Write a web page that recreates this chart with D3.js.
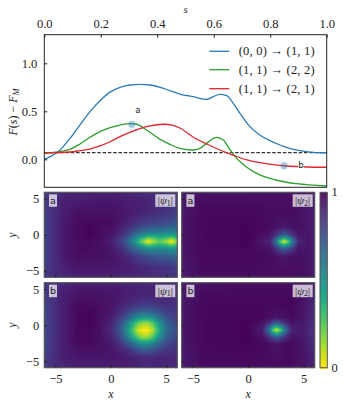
<!DOCTYPE html>
<html>
<head>
<meta charset="utf-8">
<script src="https://cdn.jsdelivr.net/npm/d3@7"></script>
<style>
  html, body { margin: 0; padding: 0; background: #fff; }
  svg { display: block; }
  text { font-family: "Liberation Serif", serif; fill: #222; }
  .sans { font-family: "DejaVu Sans", sans-serif; }
  .it { font-style: italic; }
</style>
</head>
<body>
<div id="chart"></div>
<script>
// Reaction path curves
const sBlue = [0, .02, .056, .091, .126, .162, .197, .233, .268, .303, .339, .374, .41, .445, .48, .528, .575, .598, .622, .646, .669, .693, .728, .763, .799, .834, .869, .905, .953, 1];
const fBlue = [0, .025, .097, .218, .357, .496, .61, .70, .75, .774, .78, .774, .75, .715, .68, .652, .625, .652, .677, .663, .583, .479, .34, .253, .194, .149, .114, .09, .073, .068];
const sGreen = [0, .056, .091, .126, .162, .197, .233, .268, .303, .327, .362, .41, .445, .48, .528, .551, .575, .598, .61, .634, .658, .681, .717, .752, .787, .834, .894, 1];
const fGreen = [.065, .08, .104, .159, .229, .288, .33, .357, .371, .365, .305, .208, .156, .114, .097, .114, .166, .218, .229, .201, .097, .01, -.083, -.146, -.188, -.226, -.254, -.278];
const sRed = [0, .091, .126, .162, .197, .233, .268, .303, .339, .374, .421, .456, .48, .528, .575, .622, .669, .717, .763, .81, .858, .929, 1];
const fRed = [.065, .076, .09, .107, .139, .183, .236, .281, .319, .347, .365, .354, .326, .229, .159, .097, .042, -.007, -.035, -.056, -.07, -.08, -.083];
const baseline = .069;
const legendLabels = ["(0, 0) → (1, 1)", "(1, 1) → (2, 2)", "(1, 1) → (2, 1)"];
const lineColors = ["#2b7bba", "#2ca02c", "#e0262b"];
const markS = [.31, .849];
const markF = [.365, -.066];
const markNames = ["a", "b"];
const topTicks = [0, .2, .4, .6, .8, 1];
const leftTicks = [0, .5, 1];
const heatTicks = [-5, 0, 5];

// Heat maps: values on the colour bar in percent (100 = top of bar, 0 = bottom), rows from y = +6 down
const a1X = [-6, -5, -4, -3, -2, -1, 0, 1, 1.5, 2, 2.5, 3, 3.4, 3.8, 4.4, 5, 5.45, 6];
const a1Y = [6, 4.5, 3, 1.5, .5, 0, -.5, -.93, -1.4, -2, -3, -4.5, -6];
const a1Z = [
  [82, 87, 89, 90, 90, 90, 90, 90, 89, 89, 89, 88, 88, 87, 87, 86, 85, 83],
  [82, 88, 92, 93, 93, 94, 94, 93, 92, 92, 91, 91, 90, 89, 88, 87, 86, 84],
  [81, 88, 93, 96, 96, 96, 96, 94, 93, 92, 91, 90, 89, 88, 86, 85, 83, 81],
  [80, 88, 94, 97, 98, 97, 97, 93, 90, 87, 84, 81, 80, 79, 78, 76, 74, 72],
  [80, 88, 94, 97, 99, 97, 95, 89, 84, 78, 71, 66, 63, 62, 61, 59, 58, 58],
  [80, 88, 94, 97, 99, 97, 94, 86, 78, 68, 58, 50, 46, 46, 48, 46, 44, 48],
  [80, 88, 94, 97, 98, 97, 93, 82, 72, 60, 46, 30, 20, 26, 34, 28, 20, 32],
  [80, 88, 94, 97, 97, 96, 92, 80, 68, 52, 32, 14, 0, 12, 24, 14, 0, 16],
  [80, 88, 94, 97, 97, 96, 93, 83, 73, 62, 48, 34, 26, 30, 36, 32, 24, 34],
  [80, 88, 94, 97, 97, 96, 94, 87, 80, 72, 64, 57, 54, 54, 54, 52, 50, 52],
  [80, 88, 94, 96, 96, 96, 95, 92, 89, 85, 82, 78, 75, 74, 72, 71, 69, 68],
  [81, 88, 92, 94, 94, 94, 94, 93, 92, 91, 90, 89, 88, 87, 86, 85, 84, 82],
  [82, 87, 89, 90, 90, 90, 90, 90, 90, 89, 89, 89, 88, 88, 87, 86, 85, 84]
];
const b1X = [-6, -4.5, -3, -2, -1, 0, .5, 1, 1.5, 2, 2.5, 2.9, 3.3, 3.8, 4.3, 5, 6];
const b1Y = [6, 4.5, 3, 2, 1, .3, -.7, -1.7, -2.5, -3.5, -4.5, -6];
const b1Z = [
  [83, 88, 90, 91, 91, 91, 91, 90, 90, 90, 89, 89, 89, 89, 89, 88, 87],
  [82, 91, 95, 95, 95, 94, 94, 93, 92, 92, 91, 91, 91, 91, 91, 90, 88],
  [80, 91, 97, 97, 96, 95, 93, 91, 89, 87, 85, 84, 84, 85, 86, 87, 86],
  [79, 91, 98, 98, 97, 94, 91, 87, 82, 77, 73, 71, 71, 73, 77, 82, 84],
  [78, 91, 98, 99, 96, 92, 87, 80, 70, 58, 48, 44, 44, 50, 60, 74, 82],
  [78, 91, 98, 99, 96, 90, 83, 72, 56, 38, 22, 16, 16, 26, 44, 68, 80],
  [78, 91, 98, 98, 96, 89, 81, 68, 48, 26, 6, 0, 0, 12, 36, 64, 78],
  [78, 91, 98, 98, 96, 91, 84, 74, 58, 40, 24, 16, 16, 28, 48, 70, 80],
  [79, 91, 97, 98, 96, 93, 89, 83, 74, 64, 54, 48, 48, 54, 66, 78, 84],
  [80, 91, 96, 96, 96, 94, 92, 90, 87, 82, 76, 73, 73, 76, 81, 85, 86],
  [82, 91, 94, 94, 94, 94, 94, 93, 92, 91, 90, 89, 88, 89, 90, 90, 88],
  [83, 88, 90, 91, 91, 91, 91, 91, 90, 90, 90, 89, 89, 89, 89, 89, 88]
];
const a2X = [-6, -5.5, -4, 0, 2, 2.5, 2.85, 3.25, 3.65, 4, 4.5, 5.5, 6];
const a2Y = [6, 5.5, 3, 1, 0, -.5, -.93, -1.35, -1.9, -3, -5.5, -6];
const a2Z = [
  [90, 92, 93, 93, 93, 93, 93, 93, 93, 93, 93, 92, 91],
  [92, 94, 96, 96, 96, 96, 96, 96, 96, 96, 96, 94, 92],
  [93, 95, 98, 98, 97, 97, 97, 97, 97, 97, 96, 94, 92],
  [93, 95, 98, 99, 97, 95, 94, 93, 94, 95, 96, 94, 92],
  [93, 95, 98, 99, 95, 86, 78, 70, 78, 86, 94, 94, 91],
  [93, 95, 98, 99, 92, 72, 50, 38, 50, 70, 91, 94, 91],
  [93, 95, 98, 99, 90, 62, 28, 2, 28, 60, 89, 94, 91],
  [93, 95, 98, 99, 92, 70, 48, 34, 48, 68, 91, 94, 91],
  [93, 95, 98, 98, 95, 86, 76, 70, 76, 84, 94, 94, 92],
  [93, 95, 98, 98, 97, 96, 95, 94, 95, 96, 96, 95, 92],
  [92, 94, 97, 97, 97, 97, 97, 97, 97, 97, 97, 95, 92],
  [90, 92, 93, 93, 93, 93, 93, 93, 93, 93, 93, 92, 91]
];
const b2X = [-6, -5.5, -4, 0, 1.3, 1.85, 2.2, 2.57, 2.95, 3.3, 3.9, 5, 5.5, 6];
const b2Y = [6, 5.5, 3, 1, .35, -.2, -.65, -1.1, -1.65, -2.6, -5.5, -6];
const b2Z = [
  [90, 92, 93, 93, 93, 93, 93, 93, 93, 93, 93, 93, 92, 90],
  [92, 94, 96, 97, 97, 97, 97, 97, 97, 97, 97, 96, 94, 91],
  [93, 95, 98, 98, 98, 98, 98, 98, 98, 98, 98, 95, 92, 88],
  [93, 95, 98, 99, 98, 96, 95, 94, 95, 96, 97, 94, 90, 86],
  [93, 95, 98, 99, 96, 88, 80, 72, 80, 88, 95, 93, 89, 85],
  [93, 95, 98, 99, 93, 74, 52, 40, 52, 72, 92, 93, 88, 85],
  [93, 95, 98, 99, 91, 62, 26, 4, 26, 60, 90, 93, 88, 85],
  [93, 95, 98, 99, 93, 72, 50, 36, 50, 70, 92, 93, 88, 85],
  [93, 95, 98, 99, 96, 87, 78, 72, 78, 86, 95, 93, 89, 86],
  [93, 95, 98, 99, 98, 97, 96, 95, 96, 97, 97, 94, 90, 87],
  [92, 94, 97, 97, 97, 97, 97, 97, 97, 97, 97, 95, 93, 90],
  [90, 92, 93, 93, 93, 93, 93, 93, 93, 93, 93, 93, 92, 90]
];

const W = 343, H = 405;
const svg = d3.select("#chart").append("svg").attr("width", W).attr("height", H);
const ink = "#222";

// --- top panel ---
const xS = d3.scaleLinear().domain([0, 1]).range([44.3, 326.7]);
const yF = d3.scaleLinear().domain([0, 1]).range([159.3, 63.3]);
const topY = 34.7, botY = 187.3;

const line = d3.line().x(d => xS(d[0])).y(d => yF(d[1])).curve(d3.curveMonotoneX);
const curves = [d3.zip(sBlue, fBlue), d3.zip(sGreen, fGreen), d3.zip(sRed, fRed)];

svg.append("line")
  .attr("x1", xS(0)).attr("x2", xS(1))
  .attr("y1", yF(baseline)).attr("y2", yF(baseline))
  .attr("stroke", "#333").attr("stroke-width", 1.3).attr("stroke-dasharray", "3.5,1.8");

svg.append("g").selectAll("path").data(curves).join("path")
  .attr("d", line)
  .attr("fill", "none")
  .attr("stroke", (d, i) => lineColors[i])
  .attr("stroke-width", 1.3);

svg.append("g").selectAll("circle").data(markS).join("circle")
  .attr("cx", d => xS(d))
  .attr("cy", (d, i) => yF(markF[i]))
  .attr("r", 3.6)
  .attr("fill", "#2b7bba")
  .attr("fill-opacity", .42);

svg.append("text").attr("class", "sans").attr("x", xS(markS[0]) + 6).attr("y", yF(markF[0]) - 11)
  .attr("text-anchor", "middle").attr("font-size", 8.5).text(markNames[0]);
svg.append("text").attr("class", "sans").attr("x", xS(markS[1]) + 17).attr("y", yF(markF[1]) + 2.5)
  .attr("text-anchor", "middle").attr("font-size", 8.5)
  .attr("stroke", "#fff").attr("stroke-width", 1.5).attr("paint-order", "stroke")
  .text(markNames[1]);

svg.append("rect")
  .attr("x", xS(0)).attr("y", topY).attr("width", xS(1) - xS(0)).attr("height", botY - topY)
  .attr("fill", "none").attr("stroke", ink).attr("stroke-width", 1);

const axTop = svg.append("g").attr("transform", `translate(0,${topY})`)
  .call(d3.axisTop(xS).tickValues(topTicks).tickFormat(d3.format(".1f")).tickSize(-3).tickPadding(7));
const axLeft = svg.append("g").attr("transform", `translate(${xS(0)},0)`)
  .call(d3.axisLeft(yF).tickValues(leftTicks).tickFormat(d3.format(".1f")).tickSize(-3).tickPadding(7));
[axTop, axLeft].forEach(g => {
  g.select(".domain").remove();
  g.selectAll("line").attr("stroke", ink);
  g.selectAll("text").attr("font-size", 12.5).attr("font-family", "Liberation Serif").attr("fill", ink);
});

svg.append("text").attr("class", "it").attr("x", 185.5).attr("y", 13).attr("text-anchor", "middle")
  .attr("font-size", 10.5).text("s");

const fLabel = svg.append("text").attr("class", "it").attr("font-size", 12).attr("text-anchor", "middle")
  .attr("transform", "translate(16.5,112) rotate(-90)");
fLabel.append("tspan").text("F");
fLabel.append("tspan").attr("font-style", "normal").text("(");
fLabel.append("tspan").text("s");
fLabel.append("tspan").attr("font-style", "normal").text(") − ");
fLabel.append("tspan").text("F");
fLabel.append("tspan").attr("font-size", 8.5).attr("dy", 2).text("M");

// legend
const legendY = [51.3, 69.7, 88.7];
legendLabels.forEach((lab, i) => {
  svg.append("line").attr("x1", 209.3).attr("x2", 229.3).attr("y1", legendY[i]).attr("y2", legendY[i])
    .attr("stroke", lineColors[i]).attr("stroke-width", 1.3);
  svg.append("text").attr("x", 238.7).attr("y", legendY[i] + 4).attr("font-size", 12.5)
    .attr("textLength", 76).attr("lengthAdjust", "spacing").text(lab);
});

// --- heat maps ---
const colorOf = d3.scaleSequential(t => d3.interpolateViridis(t)).domain([100, 0]);

// bilinear lookup on the read grid, used only to paint the raster
function lookup(xs, ys, zs, x, y) {
  const i = Math.min(Math.max(d3.bisectRight(xs, x) - 1, 0), xs.length - 2);
  const revY = ys.map(v => -v);
  const j = Math.min(Math.max(d3.bisectRight(revY, -y) - 1, 0), ys.length - 2);
  const u = Math.min(Math.max((x - xs[i]) / (xs[i + 1] - xs[i]), 0), 1);
  const v = Math.min(Math.max((ys[j] - y) / (ys[j] - ys[j + 1]), 0), 1);
  return d3.interpolate(
    d3.interpolate(zs[j][i], zs[j][i + 1])(u),
    d3.interpolate(zs[j + 1][i], zs[j + 1][i + 1])(u)
  )(v);
}

function heatPanel(left, top, xs, ys, zs, tag, psi, showX, showY) {
  const w = 133, h = 85;
  const x = d3.scaleLinear().domain([-6, 6]).range([left, left + w]);
  const y = d3.scaleLinear().domain([5.9, -5.9]).range([top, top + h]);

  const cv = document.createElement("canvas");
  cv.width = w; cv.height = h;
  const ctx = cv.getContext("2d");
  for (let py = 0; py < h; py++) {
    for (let px = 0; px < w; px++) {
      ctx.fillStyle = colorOf(lookup(xs, ys, zs, x.invert(left + px + .5), y.invert(top + py + .5)));
      ctx.fillRect(px, py, 1, 1);
    }
  }
  svg.append("image").attr("x", left).attr("y", top).attr("width", w).attr("height", h)
    .attr("href", cv.toDataURL());

  svg.append("rect").attr("x", left).attr("y", top).attr("width", w).attr("height", h)
    .attr("fill", "none").attr("stroke", "#555").attr("stroke-width", 1.2);

  const gx = svg.append("g").attr("transform", `translate(0,${top + h})`)
    .call(d3.axisBottom(x).tickValues(heatTicks).tickFormat(d => d < 0 ? "−" + (-d) : d).tickSize(-2.5).tickPadding(6));
  const gy = svg.append("g").attr("transform", `translate(${left},0)`)
    .call(d3.axisLeft(y).tickValues(heatTicks).tickFormat(d => d < 0 ? "−" + (-d) : d).tickSize(-2.5).tickPadding(5));
  [gx, gy].forEach(g => {
    g.select(".domain").remove();
    g.selectAll("line").attr("stroke", ink);
    g.selectAll("text").attr("font-size", 12.5).attr("font-family", "Liberation Serif").attr("fill", ink);
  });
  if (!showX) gx.selectAll("text").remove();
  if (!showY) gy.selectAll("text").remove();

  // tag box and psi box
  svg.append("rect").attr("x", left + 4.7).attr("y", top + 2).attr("width", 8).attr("height", 12.5)
    .attr("fill", "#fff").attr("fill-opacity", .72);
  svg.append("text").attr("class", "sans").attr("x", left + 8.7).attr("y", top + 11.5)
    .attr("text-anchor", "middle").attr("font-size", 9.5).text(tag);

  svg.append("rect").attr("x", left + 111).attr("y", top + 2).attr("width", 20).attr("height", 12.5)
    .attr("fill", "#fff").attr("fill-opacity", .72);
  const t = svg.append("text").attr("x", left + 121).attr("y", top + 12).attr("text-anchor", "middle")
    .attr("font-size", 11);
  t.append("tspan").text("|");
  t.append("tspan").attr("class", "it").text("ψ");
  t.append("tspan").attr("font-size", 8).attr("dy", 1.5).text(psi);
  t.append("tspan").attr("dy", -1.5).text("|");
}

heatPanel(44.3, 192.3, a1X, a1Y, a1Z, "a", "1", false, true);
heatPanel(181.7, 192.3, a2X, a2Y, a2Z, "a", "2", false, false);
heatPanel(44.3, 282.7, b1X, b1Y, b1Z, "b", "1", true, true);
heatPanel(181.7, 282.7, b2X, b2Y, b2Z, "b", "2", true, false);

svg.append("text").attr("class", "it").attr("x", 110.8).attr("y", 398).attr("text-anchor", "middle").attr("font-size", 12).text("x");
svg.append("text").attr("class", "it").attr("x", 248.2).attr("y", 398).attr("text-anchor", "middle").attr("font-size", 12).text("y".replace("y", "x"));
svg.append("text").attr("class", "it").attr("font-size", 12).attr("text-anchor", "middle")
  .attr("transform", "translate(16,235) rotate(-90)").text("y");
svg.append("text").attr("class", "it").attr("font-size", 12).attr("text-anchor", "middle")
  .attr("transform", "translate(16,325) rotate(-90)").text("y");

// --- colour bar ---
const cbarTicks = [0, 1];
const barY = d3.scaleLinear().domain([1, 0]).range([192.3, 367.7]);
const barSteps = d3.range(176).map(i => 100 - i * 100 / 175);
svg.append("g").selectAll("rect").data(barSteps).join("rect")
  .attr("x", 320).attr("width", 7.3)
  .attr("y", d => barY(d / 100))
  .attr("height", 1.4)
  .attr("fill", d => colorOf(d));
svg.append("rect").attr("x", 320).attr("y", 192.3).attr("width", 7.3).attr("height", 175.4)
  .attr("fill", "none").attr("stroke", "#555").attr("stroke-width", 1);
svg.append("g").selectAll("text").data(cbarTicks).join("text")
  .attr("x", 334.5)
  .attr("y", d => barY(d) + 4)
  .attr("text-anchor", "middle")
  .attr("font-size", 12.5)
  .text(d => d);
</script>
</body>
</html>
